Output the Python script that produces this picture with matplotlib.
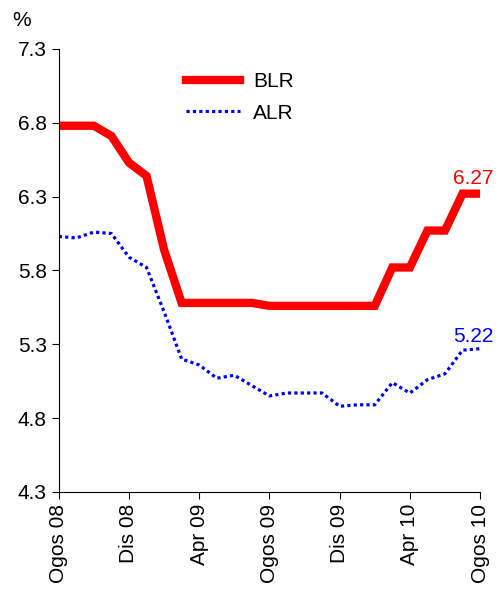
import matplotlib.pyplot as plt
import numpy as np

plt.rcParams['font.family'] = ['Liberation Sans', 'DejaVu Sans']

# monthly averages, Aug 2008 - Aug 2010
months = ['Ogos 08', 'Sep 08', 'Okt 08', 'Nov 08', 'Dis 08', 'Jan 09', 'Feb 09', 'Mac 09',
          'Apr 09', 'Mei 09', 'Jun 09', 'Jul 09', 'Ogos 09', 'Sep 09', 'Okt 09', 'Nov 09',
          'Dis 09', 'Jan 10', 'Feb 10', 'Mac 10', 'Apr 10', 'Mei 10', 'Jun 10', 'Jul 10', 'Ogos 10']
blr = [6.78, 6.78, 6.78, 6.71, 6.53, 6.44, 5.94, 5.58, 5.58, 5.58, 5.58, 5.58, 5.56,
       5.56, 5.56, 5.56, 5.56, 5.56, 5.56, 5.82, 5.82, 6.07, 6.07, 6.32, 6.32]
alr = [6.03, 6.02, 6.06, 6.05, 5.89, 5.82, 5.52, 5.20, 5.16, 5.07, 5.09, 5.02, 4.95,
       4.97, 4.97, 4.97, 4.88, 4.89, 4.89, 5.04, 4.97, 5.06, 5.10, 5.26, 5.27]
blr_label = '6.27'
alr_label = '5.22'

x = np.arange(len(months))

fig = plt.figure(figsize=(4.98, 5.97), dpi=100)
ax = fig.add_axes([0.118, 0.176, 0.846, 0.742])

ax.plot(x, blr, color='#ff0000', lw=6, solid_joinstyle='miter', label='BLR')
ax.plot(x, alr, color='#0000ff', lw=2.3, linestyle=(0, (1, 1)), label='ALR')

ax.text(23.6, blr[-1] + 0.04, blr_label, color='#ff0000', fontsize=15, ha='center', va='bottom')
ax.text(23.6, alr[-1] + 0.02, alr_label, color='#0000ff', fontsize=15, ha='center', va='bottom')

ax.set_xlim(0, 24)
ax.set_ylim(4.3, 7.3)
ax.set_yticks(np.arange(4.3, 7.31, 0.5))
ax.set_yticklabels([f'{v:.1f}' for v in np.arange(4.3, 7.31, 0.5)])
ax.set_xticks(x[::4])
ax.set_xticklabels(months[::4], rotation=90)
ax.tick_params(labelsize=15, length=5, direction='out', color='black')

for s in ['top', 'right']:
    ax.spines[s].set_visible(False)

fig.text(0.044, 0.965, '%', fontsize=15, ha='center', va='center')

ax.legend(loc='upper left', bbox_to_anchor=(0.258, 0.99), frameon=False, fontsize=15,
          handlelength=2.6, labelspacing=0.6, handletextpad=0.6)

fig.savefig('out.png', dpi=100)
